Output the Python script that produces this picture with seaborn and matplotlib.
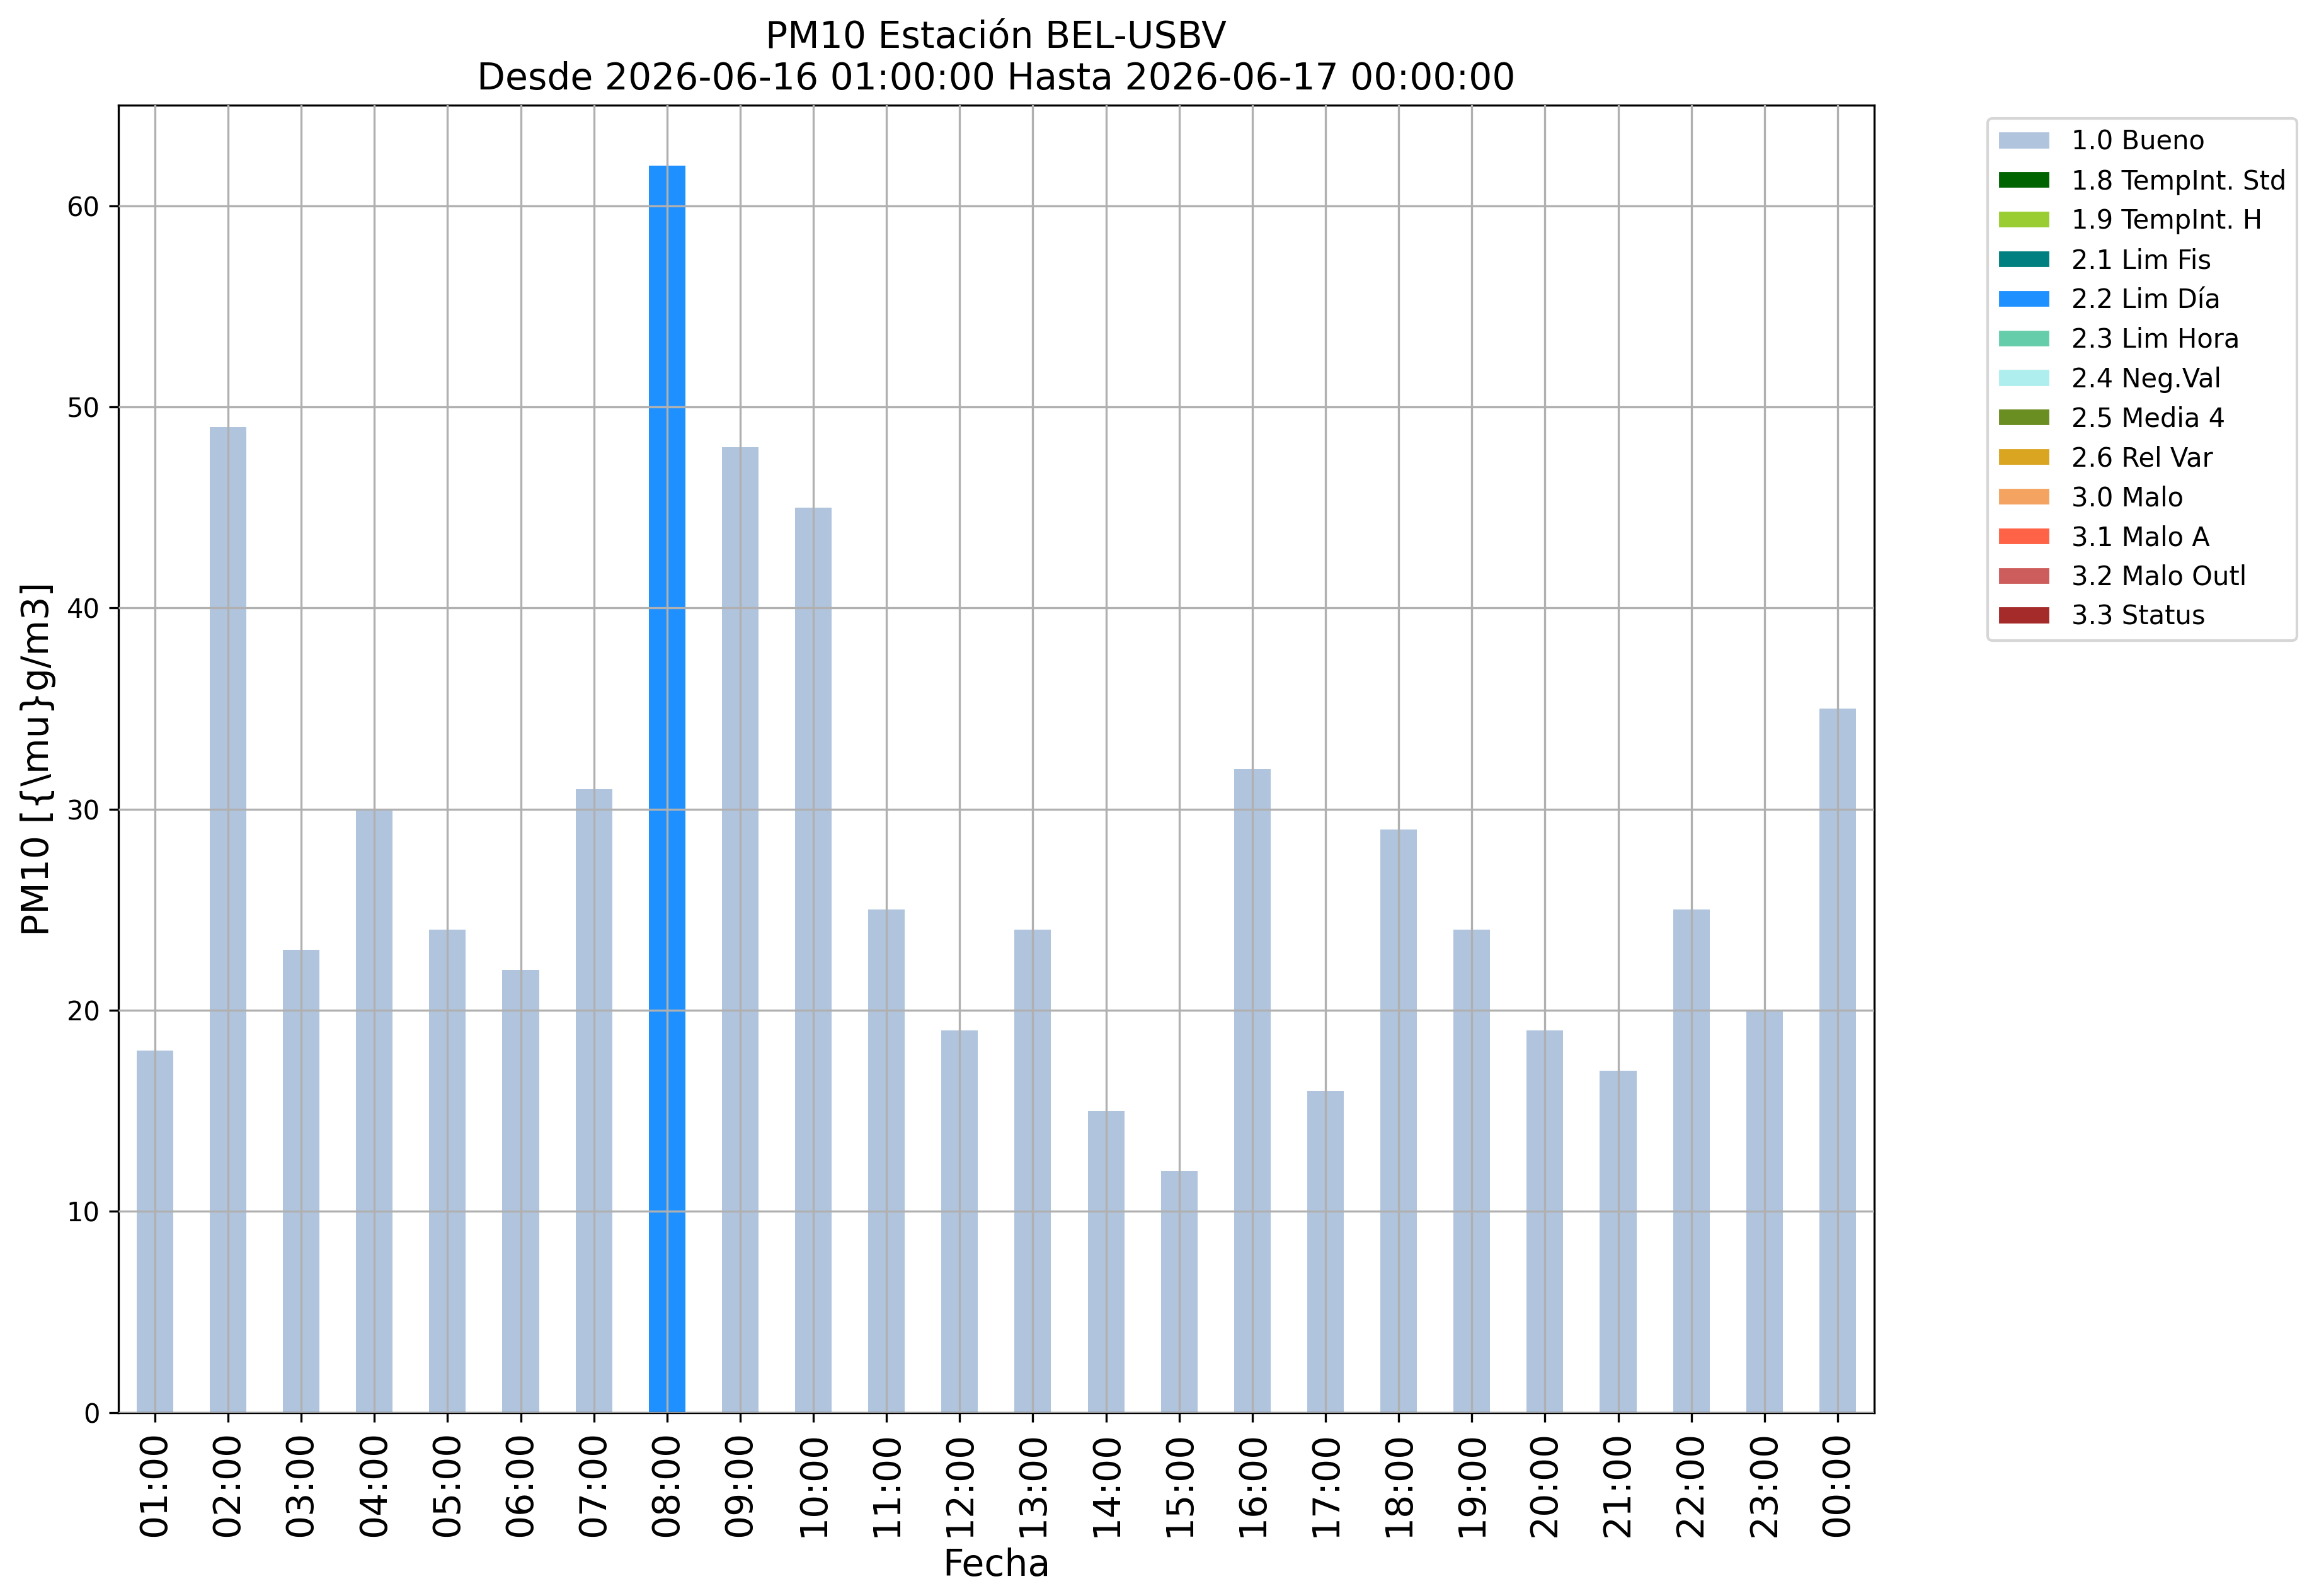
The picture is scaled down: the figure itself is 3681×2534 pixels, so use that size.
import matplotlib
matplotlib.use("Agg")
import matplotlib.pyplot as plt
import seaborn as sns
import pandas as pd
from matplotlib.patches import Patch

hours = ["01:00", "02:00", "03:00", "04:00", "05:00", "06:00", "07:00", "08:00",
         "09:00", "10:00", "11:00", "12:00", "13:00", "14:00", "15:00", "16:00",
         "17:00", "18:00", "19:00", "20:00", "21:00", "22:00", "23:00", "00:00"]
values = [18, 49, 23, 30, 24, 22, 31, 62, 48, 45, 25, 19, 24, 15, 12, 32,
          16, 29, 24, 19, 17, 25, 20, 35]
flags = ["1.0 Bueno"] * 7 + ["2.2 Lim Día"] + ["1.0 Bueno"] * 16

categories = ["1.0 Bueno", "1.8 TempInt. Std", "1.9 TempInt. H", "2.1 Lim Fis",
              "2.2 Lim Día", "2.3 Lim Hora", "2.4 Neg.Val", "2.5 Media 4",
              "2.6 Rel Var", "3.0 Malo", "3.1 Malo A", "3.2 Malo Outl", "3.3 Status"]
colors = ["lightsteelblue", "darkgreen", "yellowgreen", "teal", "dodgerblue",
          "mediumaquamarine", "paleturquoise", "olivedrab", "goldenrod",
          "sandybrown", "tomato", "indianred", "brown"]
palette = dict(zip(categories, colors))

df = pd.DataFrame({"Fecha": hours, "PM10": values, "flag": flags})

sns.set_style("ticks")
plt.rcParams.update({
    "font.family": ["DejaVu Sans"],
    "text.color": "black",
    "axes.labelcolor": "black",
    "xtick.color": "black",
    "ytick.color": "black",
    "axes.edgecolor": "black",
})

fig = plt.figure(figsize=(12.273, 8.447), dpi=300)
ax = fig.add_axes([0.051, 0.115, 0.757, 0.819])

sns.barplot(data=df, x="Fecha", y="PM10", hue="flag", hue_order=categories,
            palette=palette, dodge=False, width=0.5, saturation=1, ax=ax,
            order=hours, legend=False, linewidth=0, edgecolor="none")

ax.set_xlim(-0.5, len(hours) - 0.5)
ax.set_ylim(0, 65)
ax.grid(True, color="#b0b0b0", linewidth=0.8)
ax.set_axisbelow(False)
for s in ax.spines.values():
    s.set_visible(True)
    s.set_color("black")
    s.set_linewidth(0.8)

ax.tick_params(axis="x", labelrotation=90, labelsize=14, direction="out", length=3.5, width=0.8, bottom=True)
ax.tick_params(axis="y", labelsize=10, direction="out", length=3.5, width=0.8, left=True)
ax.set_xlabel("Fecha", fontsize=14)
ax.set_ylabel("PM10 [{\\mu}g/m3]", fontsize=14)
ax.set_title("PM10 Estación BEL-USBV\nDesde 2026-06-16 01:00:00 Hasta 2026-06-17 00:00:00",
             fontsize=14)

handles = [Patch(facecolor=palette[c], label=c) for c in categories]
ax.legend(handles=handles, loc="upper left", bbox_to_anchor=(1.057, 1.0),
          fontsize=10, frameon=True, edgecolor="#cccccc", fancybox=True)

fig.savefig("out.png", dpi=300)
